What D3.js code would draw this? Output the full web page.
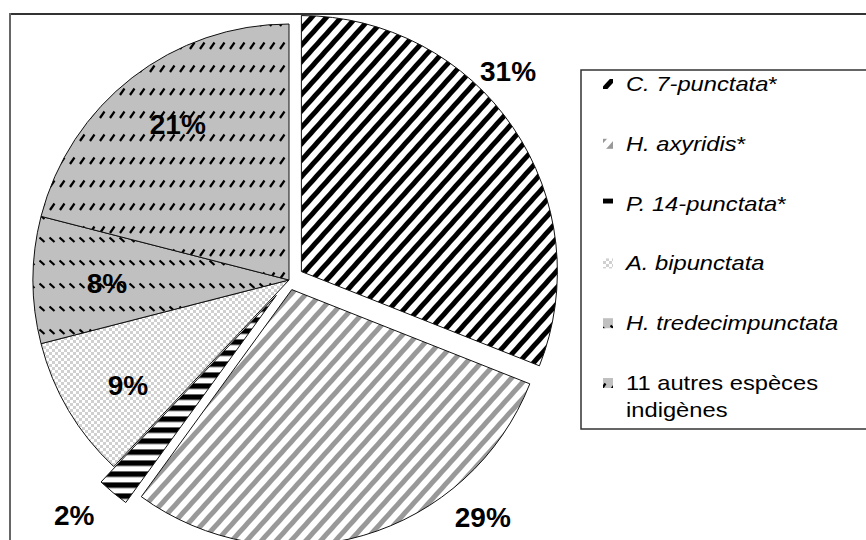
<!DOCTYPE html>
<html>
<head>
<meta charset="utf-8">
<script src="https://cdn.jsdelivr.net/npm/d3@7"></script>
<style>
  body { margin: 0; background: #fff; }
  svg { display: block; font-family: "Liberation Sans", Arial, sans-serif; }
</style>
</head>
<body>
<svg id="chart" width="866" height="540"></svg>
<script>
// Species and their share of the ladybird catch (%)
const species = ["C. 7-punctata", "H. axyridis", "P. 14-punctata", "A. bipunctata", "H. tredecimpunctata", "11 autres espèces indigènes"];
const shares = [31, 29, 2, 9, 8, 21];
const exotic = [true, true, true, false, false, false];   // marked with *
const latinName = [true, true, true, true, true, false];   // set in italics
const percentLabels = shares.map(v => v + "%");

const svg = d3.select("#chart");
const defs = svg.append("defs");

// ---- fill patterns -------------------------------------------------------
function stripes(id, color, period, band, angle) {
  const p = defs.append("pattern").attr("id", id)
    .attr("patternUnits", "userSpaceOnUse")
    .attr("width", period).attr("height", period)
    .attr("patternTransform", `rotate(${angle})`);
  p.append("rect").attr("width", period).attr("height", period).attr("fill", "#fff");
  p.append("rect").attr("width", band).attr("height", period).attr("fill", color);
}
stripes("pat-c7", "#000", 11, 5, 42);
stripes("pat-ha", "#999", 11, 5, 42);
stripes("pat-p14", "#000", 11, 5.5, 90);

(function checker() {
  const p = defs.append("pattern").attr("id", "pat-ab")
    .attr("patternUnits", "userSpaceOnUse").attr("width", 6).attr("height", 6);
  p.append("rect").attr("width", 6).attr("height", 6).attr("fill", "#fff");
  p.append("rect").attr("width", 3).attr("height", 3).attr("fill", "#d0d0d0");
  p.append("rect").attr("x", 3).attr("y", 3).attr("width", 3).attr("height", 3).attr("fill", "#d0d0d0");
})();

function dashes(id, d) {
  const p = defs.append("pattern").attr("id", id)
    .attr("patternUnits", "userSpaceOnUse").attr("width", 10).attr("height", 23);
  p.append("rect").attr("width", 10).attr("height", 23).attr("fill", "#c0c0c0");
  p.append("path").attr("d", d).attr("stroke", "#000").attr("stroke-width", 2.2).attr("fill", "none");
}
dashes("pat-ht", "M0.5,3.5 L5.5,8");
dashes("pat-au", "M1,22 L5.5,15.5");

const fills = ["url(#pat-c7)", "url(#pat-ha)", "url(#pat-p14)", "url(#pat-ab)", "url(#pat-ht)", "url(#pat-au)"];

// ---- frame ---------------------------------------------------------------
svg.append("line").attr("x1", 10).attr("x2", 866).attr("y1", 14).attr("y2", 14)
  .attr("stroke", "#333").attr("stroke-width", 2);
svg.append("line").attr("x1", 10).attr("x2", 10).attr("y1", 13).attr("y2", 540)
  .attr("stroke", "#666").attr("stroke-width", 2);

// ---- pie -----------------------------------------------------------------
const cx = 289, cy = 280, radius = 256;
const explodeBy = [15, 10, 20, 0, 0, 0];

const pie = d3.pie().sort(null).value(d => d.v);
const arcs = pie(shares.map((v, i) => ({ v, i })));
const arc = d3.arc().innerRadius(0).outerRadius(radius);

const g = svg.append("g").attr("transform", `translate(${cx},${cy})`);

g.selectAll("path.slice").data(arcs).join("path")
  .attr("class", "slice")
  .attr("d", arc)
  .attr("transform", d => {
    const a = (d.startAngle + d.endAngle) / 2, e = explodeBy[d.data.i];
    return `translate(${e * Math.sin(a)},${-e * Math.cos(a)})`;
  })
  .attr("fill", d => fills[d.data.i])
  .attr("stroke", "#111").attr("stroke-width", 1);

// percentage labels, placed in polar coordinates around the pie centre
// (angle in degrees clockwise from 12 o'clock, distance in px)
const labelPlace = [
  { angle: 46.3, r: 303 },
  { angle: 140.7, r: 306 },
  { angle: 222.5, r: 318 },
  { angle: 237, r: 192 },
  { angle: 269, r: 182 },
  { angle: 324.6, r: 192 }
];
g.selectAll("text.pct").data(arcs).join("text")
  .attr("class", "pct")
  .attr("transform", d => {
    const lp = labelPlace[d.data.i];
    const a = lp.angle * Math.PI / 180;
    return `translate(${lp.r * Math.sin(a)},${-lp.r * Math.cos(a)})`;
  })
  .attr("text-anchor", "middle")
  .attr("dy", "0.36em")
  .attr("font-size", 28).attr("font-weight", "bold").attr("fill", "#000")
  .text(d => percentLabels[d.data.i]);

// ---- legend --------------------------------------------------------------
const legX = 581, legY = 70;
svg.append("rect").attr("x", legX).attr("y", legY).attr("width", 320).attr("height", 359)
  .attr("fill", "#fff").attr("stroke", "#333").attr("stroke-width", 1.5);

const rowY = d3.scalePoint().domain(d3.range(species.length)).range([91, 390]);
const leg = svg.append("g");
species.forEach((name, i) => {
  const y = rowY(i);
  leg.append("rect").attr("x", 603).attr("y", y - 12).attr("width", 10).attr("height", 10)
    .attr("fill", fills[i]);
  const t = leg.append("text").attr("transform", `translate(626,${y}) scale(1.13,1)`)
    .attr("font-size", 21).attr("fill", "#000");
  if (latinName[i]) {
    t.append("tspan").attr("font-style", "italic").text(name);
    if (exotic[i]) t.append("tspan").text("*");
  } else {
    const words = name.split(" ");
    t.append("tspan").text(words.slice(0, 3).join(" "));
    t.append("tspan").attr("x", 0).attr("dy", 27).text(words.slice(3).join(" "));
  }
});
</script>
</body>
</html>
